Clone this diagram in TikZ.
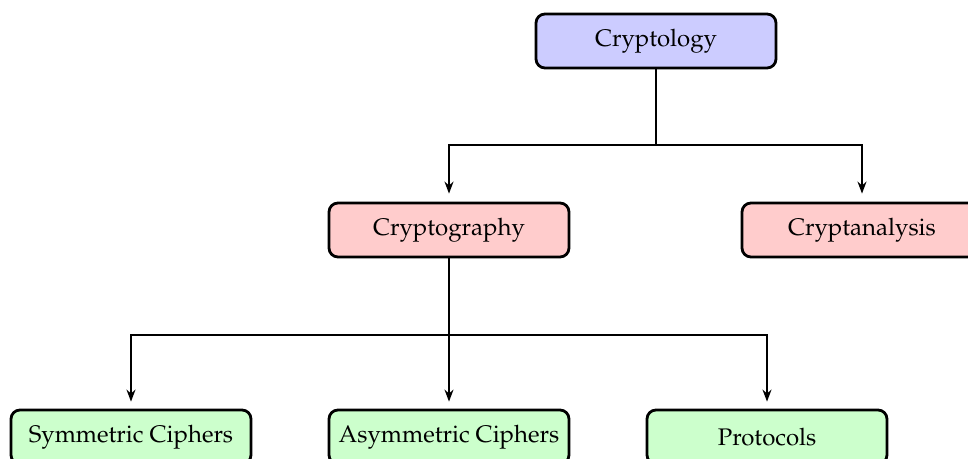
\documentclass[tikz,border=0pt]{standalone}
\usepackage[T1]{fontenc}
\usepackage{mathpazo}
\usetikzlibrary{arrows.meta}
\begin{document}
\begin{tikzpicture}[x=0.5pt,y=-0.5pt,
  box/.style={draw, line width=1.4pt, rounded corners=4.5pt, minimum width=120pt, minimum height=27pt, inner sep=0pt, font=\fontsize{12}{14}\selectfont},
  conn/.style={line width=0.9pt, -{Stealth[length=6pt,width=4.5pt]}},
  plain/.style={line width=0.9pt}]
\useasboundingbox (0,0) rectangle (968,459);
\clip (0,0) rectangle (968,459);
\node[box, fill=blue!20] (cl) at (656,41) {Cryptology};
\node[box, fill=red!20] (cg) at (449,230) {Cryptography};
\node[box, fill=red!20] (ca) at (862,230) {Cryptanalysis};
\node[box, fill=green!20] (sc) at (131,437) {Symmetric Ciphers};
\node[box, fill=green!20] (ac) at (449,437) {Asymmetric Ciphers};
\node[box, fill=green!20] (pr) at (767,437) {Protocols};
\coordinate (j1) at (656,145);
\coordinate (j2) at (449,335);
\draw[plain] (cl.south) -- (j1);
\draw[conn, shorten >=4pt] (j1) -| (cg.north);
\draw[conn, shorten >=4pt] (j1) -| (ca.north);
\draw[plain] (cg.south) -- (j2);
\draw[conn, shorten >=3.5pt] (j2) -| (sc.north);
\draw[conn, shorten >=3.5pt] (j2) -- (ac.north);
\draw[conn, shorten >=3.5pt] (j2) -| (pr.north);
\end{tikzpicture}
\end{document}
